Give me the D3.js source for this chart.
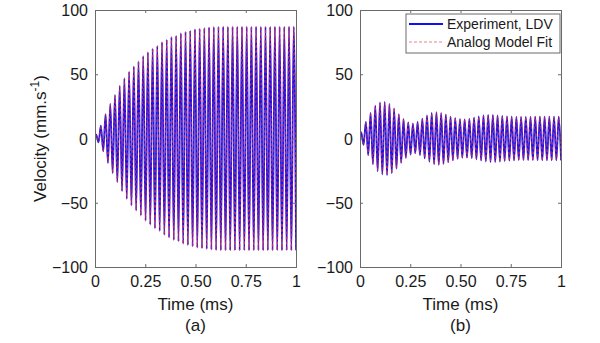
<!DOCTYPE html>
<html>
<head>
<meta charset="utf-8">
<script src="https://cdn.jsdelivr.net/npm/d3@7"></script>
<style>
  body { margin: 0; background: #fff; }
  text { font-family: "Liberation Sans", Arial, sans-serif; fill: #1a1a1a; }
</style>
</head>
<body>
<script>
// time axis ticks (ms) and velocity ticks (mm/s)
var xTicks = [0, 0.25, 0.5, 0.75, 1];
var xTickLabels = ["0", "0.25", "0.50", "0.75", "1"];
var yTicks = [-100, -50, 0, 50, 100];

// oscillation period (ms)
var period = 0.0234;

// peak amplitude of each cycle, panel (a) - growing response
var ampA = [3, 10, 19, 27, 34, 41, 47, 52, 56, 60, 64, 67, 70, 72, 75, 77, 79, 80, 82, 83,
            84, 85, 85.5, 86, 86.5, 86.8, 87, 87, 87, 87, 87, 87, 87, 87, 87, 87, 87, 87,
            87, 87, 87, 87, 87];
var fitA = [3, 10, 19, 27, 34, 41, 47, 52, 56, 60, 64, 67, 70, 72, 75, 77, 79, 80, 82, 83,
            84, 85, 85.5, 86, 86.5, 86.8, 87, 87, 87, 87, 87, 87, 87, 87, 87, 87, 87, 87,
            87, 87, 87, 87, 87];

// peak amplitude of each cycle, panel (b) - beating response
var ampB = [5, 13, 20, 25.5, 28, 28.5, 27, 23.5, 19, 15, 12.5, 11.5, 13, 15.5, 18, 20, 20.5,
            19.8, 18.5, 17, 15.8, 15, 14.9, 15.2, 16.2, 17.2, 17.9, 18.3, 18.3, 18, 17.5,
            17.2, 17, 16.8, 16.8, 16.8, 16.8, 17, 17, 17, 17, 17, 17];
var fitB = [5, 13, 20, 25, 27.5, 28, 27, 23.5, 19, 15.5, 12.5, 11.5, 12.5, 15, 17.5, 19.5, 20.5,
            20, 18.8, 17.2, 16, 15.2, 15, 15.3, 16, 16.8, 17.5, 18, 18.1, 17.9, 17.5,
            17.2, 17, 16.9, 16.8, 16.8, 16.9, 17, 17, 17, 17, 17, 17];

var W = 600, H = 343;
var svg = d3.select("body").append("svg").attr("width", W).attr("height", H);

function toPoints(amps) {
    var pts = [{ t: 0, v: 0 }];
    amps.forEach(function (a, k) {
        pts.push({ t: (k + 0.25) * period, v: a });
        pts.push({ t: (k + 0.75) * period, v: -a });
    });
    return pts;
}

function panel(left, right, amps, fits, label, id, withYTitle, withLegend) {
    var top = 10, bottom = 267;
    var x = d3.scaleLinear().domain([0, 1]).range([left, right]);
    var y = d3.scaleLinear().domain([-100, 100]).range([bottom, top]);

    svg.append("clipPath").attr("id", id)
        .append("rect").attr("x", left).attr("y", top)
        .attr("width", right - left).attr("height", bottom - top);

    var line = d3.line()
        .x(function (d) { return x(d.t); })
        .y(function (d) { return y(d.v); })
        .curve(d3.curveMonotoneX);

    var g = svg.append("g").attr("clip-path", "url(#" + id + ")");
    g.append("path").datum(toPoints(amps))
        .attr("d", line).attr("fill", "none")
        .attr("stroke", "#1010f0").attr("stroke-width", 1.8);
    g.append("path").datum(toPoints(fits))
        .attr("d", line).attr("fill", "none")
        .attr("stroke", "#f03040").attr("stroke-width", 1)
        .attr("stroke-dasharray", "3,2").attr("opacity", 0.75);

    // box + inward ticks
    var axisColor = "#6a6a6a";
    var bx = svg.append("g").attr("transform", "translate(0," + bottom + ")")
        .call(d3.axisBottom(x).tickValues(xTicks).tickSize(-3)
            .tickFormat(function (d, i) { return xTickLabels[i]; }));
    var tx = svg.append("g").attr("transform", "translate(0," + top + ")")
        .call(d3.axisTop(x).tickValues(xTicks).tickSize(-3).tickFormat(""));
    var ly = svg.append("g").attr("transform", "translate(" + left + ",0)")
        .call(d3.axisLeft(y).tickValues(yTicks).tickSize(-3));
    var ry = svg.append("g").attr("transform", "translate(" + right + ",0)")
        .call(d3.axisRight(y).tickValues(yTicks).tickSize(-3).tickFormat(""));

    [bx, tx, ly, ry].forEach(function (a) {
        a.select(".domain").attr("stroke", axisColor);
        a.selectAll(".tick line").attr("stroke", axisColor);
    });
    bx.selectAll(".tick text").attr("dy", null).attr("y", 20)
        .style("font-size", "16px").style("font-family", "Liberation Sans, Arial").attr("fill", "#1a1a1a");
    ly.selectAll(".tick text").attr("x", -7).attr("dy", "0.35em")
        .style("font-size", "16px").style("font-family", "Liberation Sans, Arial").attr("fill", "#1a1a1a");

    svg.append("text").attr("x", (left + right) / 2).attr("y", 310)
        .attr("text-anchor", "middle").style("font-size", "17px").text("Time (ms)");
    svg.append("text").attr("x", (left + right) / 2).attr("y", 331)
        .attr("text-anchor", "middle").style("font-size", "17px").text(label);

    if (withYTitle) {
        var t = svg.append("text")
            .attr("transform", "translate(46," + ((top + bottom) / 2) + ") rotate(-90)")
            .attr("text-anchor", "middle").style("font-size", "17px");
        t.append("tspan").text("Velocity (mm.s");
        t.append("tspan").attr("dy", -7).style("font-size", "12px").text("-1");
        t.append("tspan").attr("dy", 7).text(")");
    }

    if (withLegend) {
        var lg = svg.append("g");
        lg.append("rect").attr("x", 406).attr("y", 14).attr("width", 154).attr("height", 39)
            .attr("fill", "#fff").attr("stroke", axisColor).attr("stroke-width", 1);
        lg.append("line").attr("x1", 409).attr("x2", 443).attr("y1", 24).attr("y2", 24)
            .attr("stroke", "#1010f0").attr("stroke-width", 1.8);
        lg.append("line").attr("x1", 409).attr("x2", 443).attr("y1", 42).attr("y2", 42)
            .attr("stroke", "#e05060").attr("stroke-width", 1)
            .attr("stroke-dasharray", "3,2").attr("opacity", 0.7);
        lg.append("text").attr("x", 447).attr("y", 29).style("font-size", "14px").text("Experiment, LDV");
        lg.append("text").attr("x", 447).attr("y", 47).style("font-size", "14px").text("Analog Model Fit");
    }
}

panel(95, 296, ampA, fitA, "(a)", "clipA", true, false);
panel(360, 561, ampB, fitB, "(b)", "clipB", false, true);
</script>
</body>
</html>
